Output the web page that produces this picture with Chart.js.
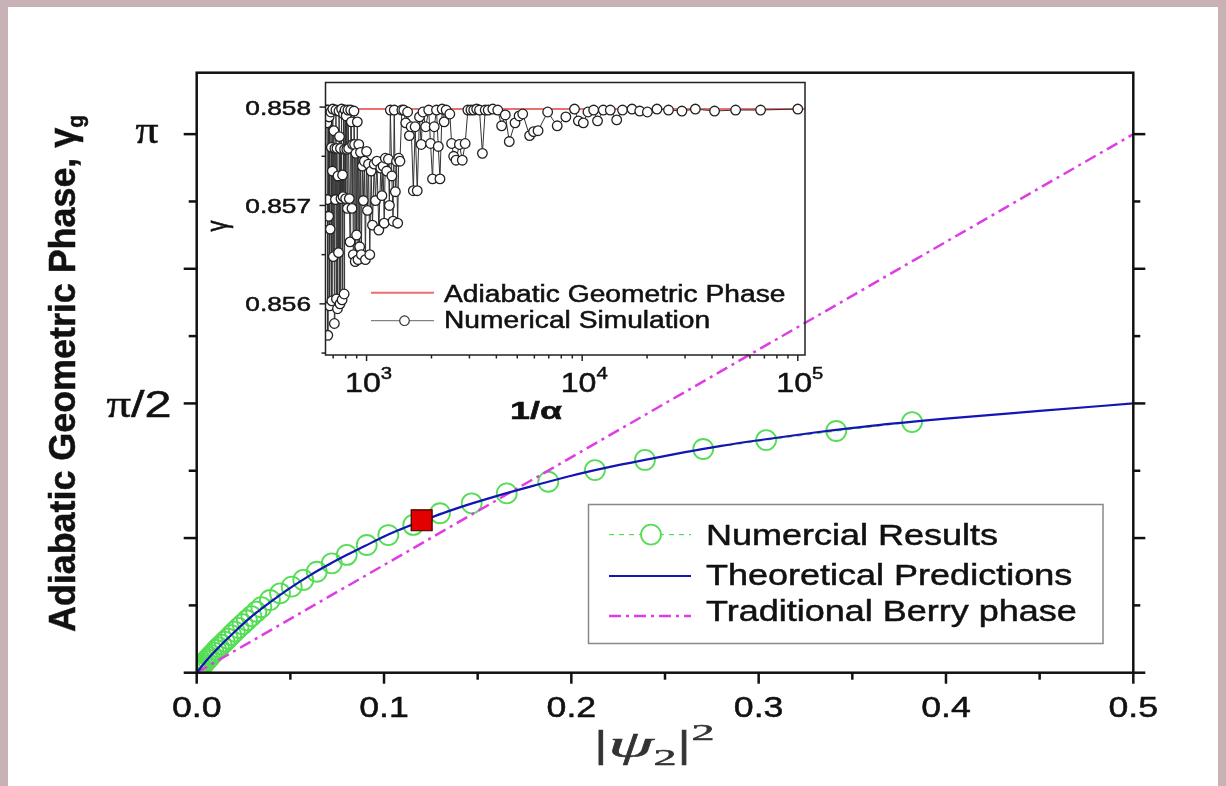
<!DOCTYPE html>
<html>
<head>
<meta charset="utf-8">
<script src="https://cdn.jsdelivr.net/npm/chart.js@4.4.1/dist/chart.umd.min.js"></script>
<style>
  body { margin: 0; background: #c8b2b6; }
  #panel { position: absolute; left: 8px; top: 7px; width: 1210px; height: 779px; background: #fff; }
  canvas { position: absolute; left: 0; top: 0; }
</style>
</head>
<body>
<div id="panel"></div>
<canvas id="mainChart" width="1226" height="786"></canvas>
<canvas id="insetChart" width="1226" height="786"></canvas>
<script>
// main panel: geometric phase vs |psi2|^2
var theoryPsiSq = [0, 0.005, 0.01, 0.02, 0.03, 0.04, 0.05, 0.06, 0.07, 0.08, 0.09, 0.10, 0.12, 0.14,
  0.16, 0.18, 0.20, 0.22, 0.24, 0.26, 0.28, 0.30, 0.33, 0.36, 0.40, 0.45, 0.50]
var theoryPhase = [0, 0.068, 0.128, 0.236, 0.334, 0.418, 0.495, 0.565, 0.628, 0.686, 0.740, 0.795, 0.884, 0.963,
  1.030, 1.091, 1.149, 1.199, 1.243, 1.285, 1.323, 1.356, 1.401, 1.440, 1.482, 1.527, 1.571]

var numPsiSq = [0.0002, 0.0005, 0.0009, 0.0014, 0.0020, 0.0026, 0.0033, 0.0041, 0.0049, 0.0058,
  0.0068, 0.0079, 0.0091, 0.0104, 0.0118, 0.0133, 0.0149, 0.0166, 0.0184, 0.0203,
  0.0223, 0.0245, 0.0268, 0.0292, 0.0318, 0.0345, 0.0391,
  0.0445, 0.0507, 0.0569, 0.0641, 0.0721, 0.0801, 0.0908, 0.1023, 0.1156, 0.1299,
  0.1468, 0.1655, 0.1877, 0.2126, 0.2393, 0.2704, 0.3040, 0.3414, 0.3819]
var numPhase = [0.003, 0.007, 0.012, 0.019, 0.027, 0.035, 0.045, 0.056, 0.067, 0.078,
  0.090, 0.103, 0.117, 0.133, 0.148, 0.164, 0.181, 0.199, 0.219, 0.240,
  0.261, 0.283, 0.306, 0.330, 0.356, 0.382, 0.424,
  0.463, 0.502, 0.541, 0.589, 0.638, 0.687, 0.745, 0.803, 0.862, 0.930,
  0.988, 1.046, 1.114, 1.182, 1.241, 1.305, 1.357, 1.410, 1.462]

var berryPsiSq = [0, 0.5]
var berryPhase = [0, 3.1416]

var markPsiSq = [0.1201]
var markPhase = [0.889]

var xTicks = [0, 0.1, 0.2, 0.3, 0.4, 0.5]
var xTickLabels = ['0.0', '0.1', '0.2', '0.3', '0.4', '0.5']
var yTicks = [Math.PI / 2, Math.PI]
var yTickLabels = ['π/2', 'π']

// inset: gamma vs 1/alpha
var simulation = [
  [652, 0.85797], [655, 0.85784], [658, 0.85706], [661, 0.85568], [664, 0.85797],
  [667, 0.85689], [670, 0.85790], [674, 0.85598], [678, 0.85676], [683, 0.85795],
  [687, 0.85759], [690, 0.85603], [694, 0.85735], [697, 0.85798], [701, 0.85648],
  [705, 0.85776], [709, 0.85580], [713, 0.85758], [717, 0.85706], [721, 0.85797],
  [725, 0.85605], [729, 0.85758], [733, 0.85595], [737, 0.85730], [741, 0.85652],
  [745, 0.85796], [749, 0.85770], [753, 0.85600], [757, 0.85758], [761, 0.85707],
  [766, 0.85798], [770, 0.85604], [774, 0.85731], [778, 0.85709], [782, 0.85793],
  [787, 0.85610], [791, 0.85757], [795, 0.85797], [800, 0.85707], [805, 0.85791],
  [810, 0.85757], [815, 0.85697], [820, 0.85797], [826, 0.85758], [832, 0.85707],
  [838, 0.85663], [844, 0.85797], [850, 0.85785], [856, 0.85697], [862, 0.85762],
  [868, 0.85650], [874, 0.85796], [880, 0.85762], [886, 0.85643], [892, 0.85753],
  [899, 0.85670], [906, 0.85785], [913, 0.85645], [920, 0.85762], [929, 0.85658],
  [937, 0.85754], [946, 0.85650], [956, 0.85740], [966, 0.85705], [977, 0.85745],
  [988, 0.85645], [1000, 0.85755], [1010, 0.85695], [1021, 0.85742], [1035, 0.85650],
  [1050, 0.85735], [1065, 0.85680], [1085, 0.85742], [1100, 0.85705], [1117, 0.85745],
  [1140, 0.85675], [1164, 0.85738], [1178, 0.85710], [1193, 0.85740], [1207, 0.85682],
  [1222, 0.85748], [1240, 0.85735], [1263, 0.85747], [1276, 0.85700], [1289, 0.85797],
  [1310, 0.85730], [1327, 0.85684], [1344, 0.85797], [1360, 0.85714], [1377, 0.85745],
  [1394, 0.85682], [1410, 0.85748], [1428, 0.85745], [1458, 0.85797], [1488, 0.85797],
  [1519, 0.85784], [1550, 0.85795], [1580, 0.85771], [1610, 0.85780], [1648, 0.85715],
  [1680, 0.85780], [1718, 0.85715], [1760, 0.85790], [1792, 0.85762], [1826, 0.85795],
  [1880, 0.85780], [1942, 0.85797], [1980, 0.85763], [2023, 0.85727], [2060, 0.85780],
  [2110, 0.85797], [2151, 0.85760], [2190, 0.85727], [2241, 0.85798], [2290, 0.85785],
  [2340, 0.85797], [2433, 0.85793], [2480, 0.85763], [2535, 0.85750], [2600, 0.85746],
  [2695, 0.85762], [2780, 0.85746], [2866, 0.85763], [2950, 0.85797], [3048, 0.85797],
  [3140, 0.85797], [3241, 0.85798], [3340, 0.85797], [3446, 0.85753], [3550, 0.85797],
  [3665, 0.85797], [3850, 0.85798], [4059, 0.85797], [4230, 0.85781], [4400, 0.85792],
  [4590, 0.85765], [4882, 0.85784], [5100, 0.85791], [5300, 0.85793], [5705, 0.85771],
  [5950, 0.85775], [6243, 0.85776], [6917, 0.85795], [7660, 0.85781], [8400, 0.85790],
  [9213, 0.85798], [9601, 0.85786], [10123, 0.85784], [10634, 0.85795], [11306, 0.85797],
  [11781, 0.85786], [12530, 0.85797], [13500, 0.85797], [14460, 0.85787], [15380, 0.85797],
  [17030, 0.85798], [18490, 0.85796], [20070, 0.85795], [22230, 0.85798], [25140, 0.85797],
  [29010, 0.85796], [33490, 0.85798], [41110, 0.85796], [51480, 0.85797], [67200, 0.85797],
  [100000, 0.85798],
]
var adiabaticGamma = 0.85798
var insetYTicks = [0.858, 0.857, 0.856]
var insetYTickLabels = ['0.858', '0.857', '0.856']
var insetXTicks = [1e3, 1e4, 1e5]
var insetXExp = ['3', '4', '5']

function toPoints(xs, ys) {
  return xs.map(function (x, i) {
    return { x: x, y: ys[i] }
  })
}

// draws a row of text pieces, squeezed/stretched along the text direction
function textRun(ctx, parts, x, y, align, sx, width) {
  var w = 0
  parts.forEach(function (p) {
    ctx.font = p[1]
    w += ctx.measureText(p[0]).width
  })
  if (width) sx = width / w
  var cx = align === 'center' ? -w / 2 : align === 'right' ? -w : 0
  ctx.save()
  ctx.translate(x, y)
  ctx.scale(sx, 1)
  ctx.textAlign = 'left'
  ctx.textBaseline = 'alphabetic'
  ctx.strokeStyle = ctx.fillStyle
  ctx.lineWidth = 0.5
  parts.forEach(function (p) {
    ctx.font = p[1]
    ctx.fillText(p[0], cx, p[2] || 0)
    ctx.strokeText(p[0], cx, p[2] || 0)
    cx += ctx.measureText(p[0]).width
  })
  ctx.restore()
}

function line(ctx, x1, y1, x2, y2) {
  ctx.beginPath()
  ctx.moveTo(x1, y1)
  ctx.lineTo(x2, y2)
  ctx.stroke()
}

var mainDecor = {
  id: 'mainDecor',
  afterDraw: function (chart) {
    var ctx = chart.ctx
    var a = chart.chartArea
    var xs = chart.scales.x
    var ys = chart.scales.y
    ctx.save()
    ctx.strokeStyle = '#111'
    ctx.fillStyle = '#111'
    ctx.lineWidth = 2.5
    ctx.strokeRect(a.left, a.top, a.right - a.left, a.bottom - a.top)

    // y ticks every pi/8, longer on pi/4
    for (var k = 0; k <= 8; k++) {
      var y = ys.getPixelForValue((k * Math.PI) / 8)
      var big = k % 2 === 0
      line(ctx, a.left - (big ? 13 : 8), y, a.left, y)
      line(ctx, a.right, y, a.right + (big ? 12 : 7), y)
    }
    // x ticks every 0.05
    for (var j = 0; j <= 10; j++) {
      var x = xs.getPixelForValue(j * 0.05)
      line(ctx, x, a.bottom, x, a.bottom + (j % 2 === 0 ? 11 : 7))
    }

    xTicks.forEach(function (v, i) {
      textRun(ctx, [[xTickLabels[i], '29px "Liberation Sans"']], xs.getPixelForValue(v), 717, 'center', 1.23)
    })
    textRun(ctx, [['π', '37px "Liberation Serif"']], 147, ys.getPixelForValue(yTicks[1]) + 9, 'center', null, 23)
    textRun(ctx, [['π', '37px "Liberation Serif"'], ['/2', '37px "Liberation Sans"']], 139,
      ys.getPixelForValue(yTicks[0]) + 14, 'center', null, 65)

    // axis titles
    ctx.fillStyle = '#333'
    textRun(ctx, [
      ['|', '38px "Liberation Serif"'],
      ['ψ', 'italic 38px "Liberation Serif"'],
      ['2', '24px "Liberation Serif"', 8],
      ['|', '38px "Liberation Serif"'],
      ['2', '24px "Liberation Serif"', -17],
    ], 654, 757, 'center', null, 121)
    ctx.fillStyle = '#111'
    ctx.save()
    ctx.translate(75, 373.5)
    ctx.rotate(-Math.PI / 2)
    ctx.scale(1, 1.05)
    textRun(ctx, [
      ['Adiabatic Geometric Phase, γ', 'bold 36px "Liberation Sans"'],
      ['g', 'bold 21px "Liberation Sans"', 8],
    ], 0, 0, 'center', null, 517)
    ctx.restore()

    // legend
    ctx.fillStyle = '#fff'
    ctx.fillRect(588.5, 504.5, 514.5, 139)
    ctx.strokeStyle = '#888'
    ctx.lineWidth = 1.5
    ctx.strokeRect(588.5, 504.5, 514.5, 139)

    ctx.strokeStyle = '#55dd55'
    ctx.lineWidth = 1.2
    ctx.setLineDash([5, 5])
    line(ctx, 609, 534.6, 691, 534.6)
    ctx.setLineDash([])
    ctx.lineWidth = 1.8
    ctx.fillStyle = '#fff'
    ctx.beginPath()
    ctx.arc(651, 534.6, 10, 0, Math.PI * 2)
    ctx.fill()
    ctx.stroke()

    ctx.strokeStyle = '#1515b5'
    ctx.lineWidth = 2.2
    line(ctx, 609, 576, 691, 576)

    ctx.strokeStyle = '#e03ce6'
    ctx.lineWidth = 2.5
    ctx.setLineDash([12, 5, 3, 5])
    line(ctx, 609, 616, 691, 616)
    ctx.setLineDash([])

    ctx.fillStyle = '#111'
    var lf = '30px "Liberation Sans"'
    textRun(ctx, [['Numercial Results', lf]], 706, 545, 'left', 1.2)
    textRun(ctx, [['Theoretical Predictions', lf]], 706, 585, 'left', 1.2)
    textRun(ctx, [['Traditional Berry phase', lf]], 706, 621, 'left', 1.2)
    ctx.restore()
  },
}

var insetDecor = {
  id: 'insetDecor',
  afterDraw: function (chart) {
    var ctx = chart.ctx
    var a = chart.chartArea
    var xs = chart.scales.x
    var ys = chart.scales.y
    ctx.save()
    ctx.strokeStyle = '#222'
    ctx.fillStyle = '#111'
    ctx.lineWidth = 1.5
    ctx.strokeRect(a.left, a.top, a.right - a.left, a.bottom - a.top)

    ;[0.858, 0.8575, 0.857, 0.8565, 0.856, 0.8555].forEach(function (v, i) {
      var y = ys.getPixelForValue(v)
      line(ctx, a.left - (i % 2 === 0 ? 6 : 4), y, a.left, y)
    })
    for (var d = 2; d <= 5; d++) {
      for (var m = 1; m <= 9; m++) {
        var v = m * Math.pow(10, d)
        if (v < xs.min || v > xs.max) continue
        var x = xs.getPixelForValue(v)
        line(ctx, x, a.bottom, x, a.bottom + (m === 1 ? 6 : 3.5))
      }
    }

    insetYTicks.forEach(function (v, i) {
      textRun(ctx, [[insetYTickLabels[i], '21px "Liberation Sans"']], 311, ys.getPixelForValue(v) + 7.5, 'right', 1.25)
    })
    insetXTicks.forEach(function (v, i) {
      textRun(ctx, [['10', '27px "Liberation Sans"'], [insetXExp[i], '17px "Liberation Sans"', -13]],
        xs.getPixelForValue(v) + 2, 392, 'center', 1.19)
    })
    textRun(ctx, [['1/α', 'bold 24px "Liberation Sans"']], 536, 419, 'center', null, 52)

    ctx.save()
    ctx.translate(227, 226)
    ctx.rotate(-Math.PI / 2)
    ctx.scale(1, 1.3)
    textRun(ctx, [['γ', '22px "Liberation Sans"']], 0, 0, 'center', 1)
    ctx.restore()

    // legend
    ctx.strokeStyle = '#e87070'
    ctx.lineWidth = 2
    line(ctx, 371, 292.7, 434, 292.7)
    ctx.strokeStyle = '#666'
    ctx.lineWidth = 1
    line(ctx, 371, 320.7, 434, 320.7)
    ctx.fillStyle = '#fff'
    ctx.strokeStyle = '#333'
    ctx.lineWidth = 1.2
    ctx.beginPath()
    ctx.arc(404.5, 320.7, 4.8, 0, Math.PI * 2)
    ctx.fill()
    ctx.stroke()
    ctx.fillStyle = '#111'
    textRun(ctx, [['Adiabatic Geometric Phase', '23px "Liberation Sans"']], 444, 301.7, 'left', 1.225)
    textRun(ctx, [['Numerical Simulation', '23px "Liberation Sans"']], 444, 328.3, 'left', 1.225)
    ctx.restore()
  },
}

new Chart(document.getElementById('mainChart'), {
  type: 'scatter',
  data: {
    datasets: [
      {
        label: 'marker',
        data: toPoints(markPsiSq, markPhase),
        pointStyle: 'rect',
        pointRadius: 14.8,
        backgroundColor: '#e30000',
        borderColor: '#3a0000',
        borderWidth: 1.2,
      },
      {
        label: 'Theoretical Predictions',
        data: toPoints(theoryPsiSq, theoryPhase),
        showLine: true,
        pointRadius: 0,
        borderColor: '#1515b5',
        borderWidth: 2.2,
        cubicInterpolationMode: 'monotone',
      },
      {
        label: 'Traditional Berry phase',
        data: toPoints(berryPsiSq, berryPhase),
        showLine: true,
        pointRadius: 0,
        borderColor: '#e03ce6',
        borderWidth: 2.5,
        borderDash: [12, 5, 3, 5],
      },
      {
        label: 'Numercial Results',
        data: toPoints(numPsiSq, numPhase),
        showLine: true,
        borderColor: '#55dd55',
        borderWidth: 1.2,
        borderDash: [5, 5],
        pointRadius: 10,
        pointBorderWidth: 1.8,
        pointBorderColor: '#55dd55',
        pointBackgroundColor: 'rgba(0,0,0,0)',
        clip: 0,
      },
    ],
  },
  options: {
    responsive: false,
    animation: false,
    events: [],
    layout: { padding: { left: 196.7, right: 92.7, top: 72.7, bottom: 113.3 } },
    scales: {
      x: { type: 'linear', min: 0, max: 0.5, display: false },
      y: { type: 'linear', min: 0, max: 3.5, display: false },
    },
    plugins: { legend: { display: false }, tooltip: { enabled: false } },
  },
  plugins: [mainDecor],
})

new Chart(document.getElementById('insetChart'), {
  type: 'scatter',
  data: {
    datasets: [
      {
        label: 'Numerical Simulation',
        data: simulation.map(function (p) {
          return { x: p[0], y: p[1] }
        }),
        showLine: true,
        borderColor: '#333',
        borderWidth: 1,
        pointRadius: 4.8,
        pointBorderWidth: 1.3,
        pointBorderColor: '#222',
        pointBackgroundColor: '#fff',
      },
      {
        label: 'Adiabatic Geometric Phase',
        data: [
          { x: 645, y: adiabaticGamma },
          { x: 108000, y: adiabaticGamma },
        ],
        showLine: true,
        pointRadius: 0,
        borderColor: '#e87070',
        borderWidth: 2,
      },
    ],
  },
  options: {
    responsive: false,
    animation: false,
    events: [],
    layout: { padding: { left: 325.5, right: 421, top: 82.5, bottom: 431 } },
    scales: {
      x: { type: 'logarithmic', min: 645, max: 108000, display: false },
      y: { type: 'linear', min: 0.85548, max: 0.85825, display: false },
    },
    plugins: { legend: { display: false }, tooltip: { enabled: false } },
  },
  plugins: [insetDecor],
})
</script>
</body>
</html>
